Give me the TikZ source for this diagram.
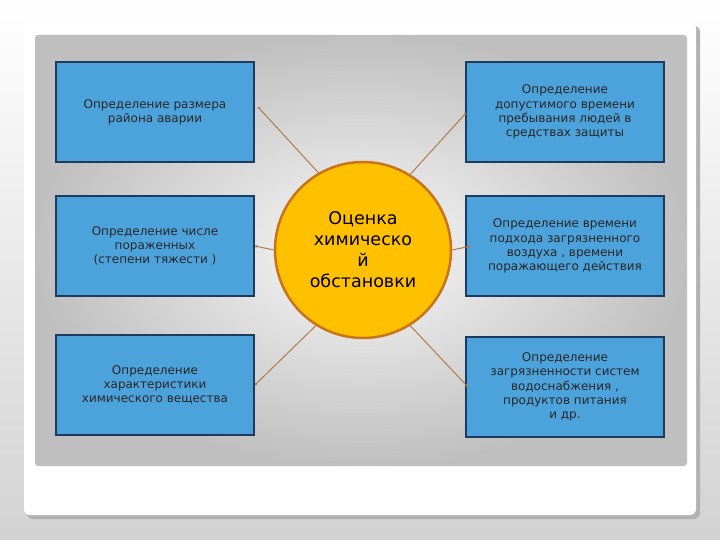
\documentclass[tikz,border=0pt]{standalone}
\usepackage{fontspec}
\setmainfont{DejaVu Sans}
\usetikzlibrary{arrows.meta}
\definecolor{boxblue}{HTML}{4CA3DC}
\definecolor{boxedge}{HTML}{1F3A5F}
\definecolor{linec}{HTML}{B07C48}
\definecolor{circf}{HTML}{FFC000}
\definecolor{circe}{HTML}{C8741A}
\begin{document}
\begin{tikzpicture}[x=1pt,y=-1pt,
  bx/.style={draw=boxedge,line width=1.5pt,fill=boxblue,minimum width=198pt,minimum height=100pt,align=center,font=\fontsize{12}{14.3}\selectfont,text=black!85,inner sep=2pt},
  conn/.style={draw=linec,line width=1pt,-{Circle[length=2.5pt]}}]
\useasboundingbox (0,0) rectangle (720,540);
\shade[top color=white,bottom color=gray!35] (0,0) rectangle (720,540);
\fill[gray!60,rounded corners=6pt] (27,26) rectangle (700,519);
\fill[white,rounded corners=6pt] (24,22) rectangle (696,515);
\shade[inner color=gray!5,outer color=gray!50,rounded corners=3pt] (35,35) rectangle (687,466);
\node[bx] (a) at (155,112) {Определение размера\\района аварии};
\node[bx] (b) at (155,246) {Определение числе\\пораженных\\(степени тяжести )};
\node[bx] (c) at (155,385) {Определение\\характеристики\\химического вещества};
\node[bx] (d) at (565,112) {Определение\\допустимого времени\\пребывания людей в\\средствах защиты};
\node[bx] (e) at (565,246) {Определение времени\\подхода загрязненного\\воздуха , времени\\поражающего действия};
\node[bx] (f) at (565,387) {Определение\\загрязненности систем\\водоснабжения ,\\продуктов питания\\и др.};
\node[circle,draw=circe,line width=2.5pt,fill=circf,minimum size=176pt,inner sep=0pt,align=center,font=\fontsize{17.5}{21}\selectfont] (o) at (363,250) {Оценка\\химическо\\й\\обстановки};
\coordinate (pa) at (258,107);
\coordinate (pb) at (255,246);
\coordinate (pc) at (255,385);
\coordinate (pd) at (466,113);
\coordinate (pe) at (471,246);
\coordinate (pf) at (468,387);
\draw[conn] (o.120) -- (pa);
\draw[conn] (o.west) -- (pb);
\draw[conn] (o.238) -- (pc);
\draw[conn] (o.58) -- (pd);
\draw[conn] (o.east) -- (pe);
\draw[conn] (o.302) -- (pf);
\end{tikzpicture}
\end{document}
